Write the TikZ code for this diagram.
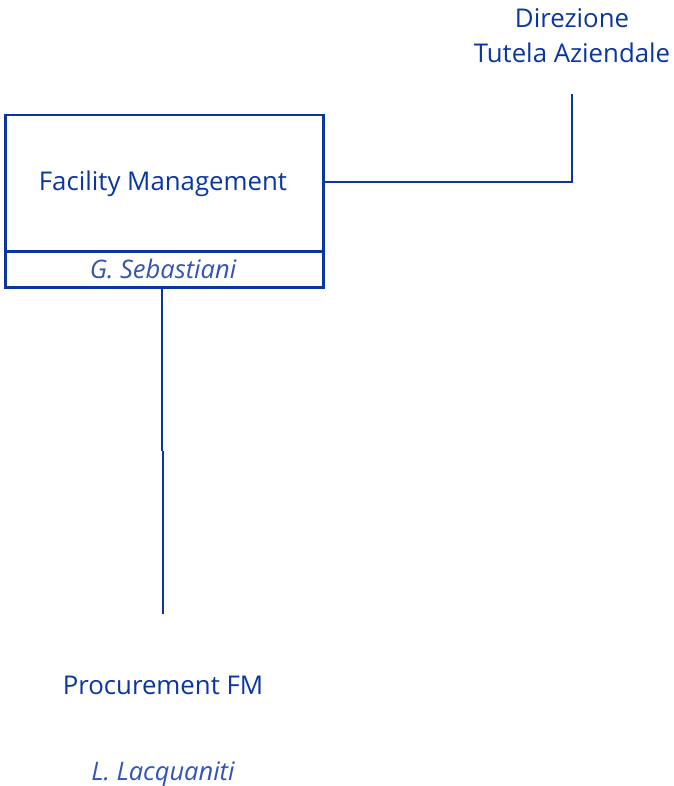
\documentclass[tikz,border=0pt]{standalone}
\usepackage{fontspec}
\setmainfont{Open Sans}
\definecolor{fmblue}{HTML}{0A36A0}
\definecolor{fmlight}{HTML}{3453B4}
\begin{document}
\begin{tikzpicture}[x=1pt,y=-1pt,
  boxline/.style={draw=fmblue,line width=2.5pt},
  conn/.style={draw=fmblue,line width=2pt},
  titletxt/.style={text=fmblue,font=\fontsize{25.8}{30}\selectfont,anchor=base,inner sep=0pt},
  nametxt/.style={text=fmlight,font=\fontsize{25.5}{30}\selectfont\itshape,anchor=base,inner sep=0pt}]
\useasboundingbox (0,0) rectangle (673,786);
% box
\node[boxline,minimum width=318pt,minimum height=136pt,anchor=north west,inner sep=0pt] (fm) at (4,114) {};
\node[boxline,minimum width=318pt,minimum height=36pt,anchor=north west,inner sep=0pt] (fmname) at (4,250) {};
\node[titletxt] (fmt) at (163,191) {Facility Management};
\node[nametxt] (fmn) at (163,278) {G. Sebastiani};
% top
\node[titletxt] (dir1) at (572,28) {Direzione};
\node[titletxt] (dir2) at (572,63) {Tutela Aziendale};
\coordinate (dirbot) at (572,94);
% bottom
\node[titletxt] (proc) at (163,694) {Procurement FM};
\node[nametxt] (procn) at (163,780) {L. Lacquaniti};
\coordinate (proctop) at (163,614);
\coordinate (jog) at (162,451);
% connectors
\draw[conn] (fm.east |- 0,182) -| (dirbot);
\draw[conn] (fmname.south -| 162,0) -- (jog);
\draw[conn] (jog -| proctop) -- (proctop);
\end{tikzpicture}
\end{document}
